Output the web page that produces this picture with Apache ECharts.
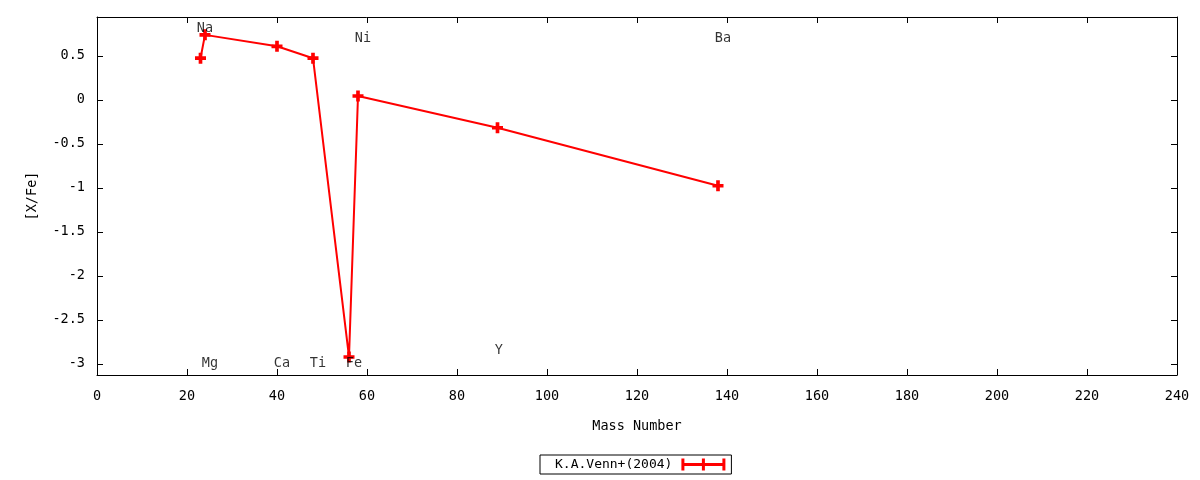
<!DOCTYPE html>
<html><head><meta charset="utf-8">
<script src="https://cdn.jsdelivr.net/npm/echarts@6/dist/echarts.min.js"></script>
<style>html,body{margin:0;padding:0;background:#fff}#c{width:1200px;height:480px}</style>
</head><body><div id="c"></div>
<script>
const seriesName = 'K.A.Venn+(2004)';
const massNumbers = [23, 24, 40, 48, 56, 58, 89, 138];
const xFeValues = [0.475, 0.74, 0.61, 0.475, -2.92, 0.045, -0.315, -0.975];
const elementNames = ['Na', 'Mg', 'Ca', 'Ti', 'Fe', 'Ni', 'Y', 'Ba'];
const labelX = [24, 25.1, 41.1, 49.1, 57.1, 59.1, 89.3, 139.1];
const labelY = [0.807, -3.0, -3.0, -3.0, -3.0, 0.697, -2.845, 0.697];
const yTicks = [-3, -2.5, -2, -1.5, -1, -0.5, 0, 0.5];

const font = 'DejaVu Sans Mono';
const fs = 13.5;
const plusPath = 'path://M4,0h4v4h4v4h-4v4h-4v-4h-4v-4h4z';
const legendIcon = 'path://M0,0h3v12h-3zM0,4.5h44v3h-44zM41,0h3v12h-3zM20.5,0h3v12h-3z';

const chart = echarts.init(document.getElementById('c'), null, {renderer: 'canvas'});
const axisLine = {show: true, onZero: false, lineStyle: {color: '#000', width: 1}};
const tick = {show: true, inside: true, length: 6, lineStyle: {color: '#000'}};
chart.setOption({
  animation: false,
  grid: {left: 97, right: 23, top: 17, bottom: 105, containLabel: false},
  legend: {
    left: 540, top: 455, align: 'right',
    data: [{name: seriesName, icon: legendIcon}],
    itemWidth: 44, itemHeight: 12,
    borderColor: '#000', borderWidth: 1, borderRadius: 0,
    padding: [3, 6, 3, 15],
    textStyle: {fontFamily: font, fontSize: 13, color: '#000', padding: [0, 4, 0, 0]}
  },
  xAxis: [{
    type: 'value', min: 0, max: 240, interval: 20,
    name: 'Mass Number', nameLocation: 'middle', nameGap: 44,
    nameTextStyle: {fontFamily: font, fontSize: fs, color: '#000'},
    axisLine: axisLine, axisTick: tick,
    axisLabel: {fontFamily: font, fontSize: fs, color: '#000', margin: 14},
    splitLine: {show: false}
  }, {
    type: 'value', position: 'top', min: 0, max: 240, interval: 20,
    axisLine: axisLine, axisTick: tick,
    axisLabel: {show: false}, splitLine: {show: false}
  }],
  yAxis: [{
    type: 'value', min: -3.125, max: 0.943,
    name: '[X/Fe]', nameLocation: 'middle', nameGap: 58, nameRotate: 90,
    nameTextStyle: {fontFamily: font, fontSize: fs, color: '#000'},
    axisLine: axisLine,
    axisTick: Object.assign({customValues: yTicks}, tick),
    axisLabel: {fontFamily: font, fontSize: fs, color: '#000', margin: 12, customValues: yTicks},
    splitLine: {show: false}
  }, {
    type: 'value', position: 'right', min: -3.125, max: 0.943,
    axisLine: axisLine,
    axisTick: Object.assign({customValues: yTicks}, tick),
    axisLabel: {show: false}, splitLine: {show: false}
  }],
  series: [{
    name: seriesName, type: 'line',
    data: massNumbers.map((m, i) => [m, xFeValues[i]]),
    symbol: plusPath, symbolSize: 11, showAllSymbol: true,
    lineStyle: {color: '#ff0000', width: 2},
    itemStyle: {color: '#ff0000'},
    z: 3
  }, {
    name: 'labels', type: 'scatter', symbolSize: 0, silent: true,
    data: elementNames.map((n, i) => ({name: n, value: [labelX[i], labelY[i]]})),
    label: {show: true, position: 'inside', formatter: p => p.name,
      fontFamily: font, fontSize: fs, color: '#000'},
    z: 4
  }]
});
</script></body></html>
